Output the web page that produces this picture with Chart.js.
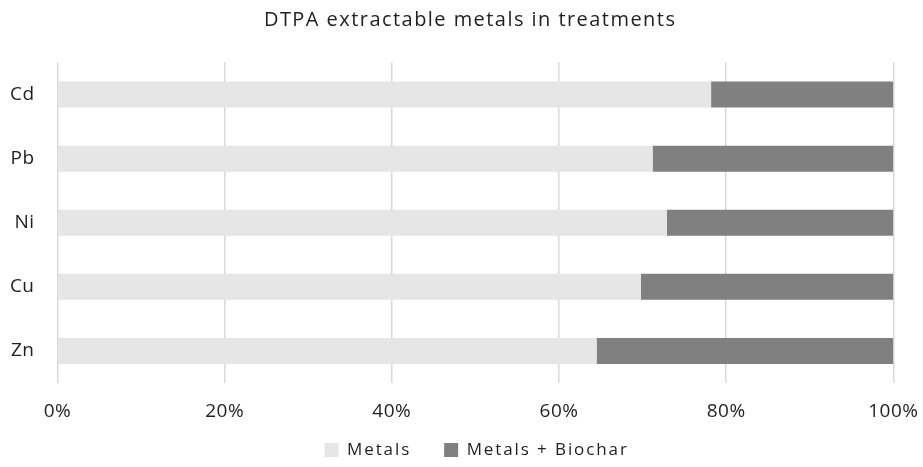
<!DOCTYPE html>
<html>
<head>
<meta charset="utf-8">
<script src="https://cdn.jsdelivr.net/npm/chart.js@4/dist/chart.umd.min.js"></script>
<style>
  html, body { margin: 0; padding: 0; background: #fff; }
  canvas { display: block; }
</style>
</head>
<body>
<canvas id="c" width="923" height="467"></canvas>
<script>
const categories = ['Cd', 'Pb', 'Ni', 'Cu', 'Zn'];
const metalsValues = [78.2, 71.2, 72.9, 69.8, 64.5];
const biocharValues = [21.8, 28.8, 27.1, 30.2, 35.5];
const seriesNames = ['Metals', 'Metals + Biochar'];
const titleText = 'DTPA extractable metals in treatments';

const fontFamily = '"Open Sans", "DejaVu Sans", sans-serif';
const textColor = '#1f1f1f';

function withSpacing(obj, name, sp, dx, dy) {
  const orig = obj[name];
  obj[name] = function (...args) {
    const ctx = this.ctx;
    const prev = ctx.letterSpacing;
    ctx.save();
    ctx.letterSpacing = sp;
    if (dx || dy) ctx.translate(dx || 0, dy || 0);
    const r = orig.apply(this, args);
    ctx.restore();
    ctx.letterSpacing = prev;
    return r;
  };
}

const spacingPlugin = {
  id: 'spacing',
  afterInit(chart) {
    if (chart.legend) {
      withSpacing(chart.legend, 'fit', '1.9px');
      withSpacing(chart.legend, 'draw', '1.9px', 30, -16.5);
    }
    if (chart.titleBlock) {
      withSpacing(chart.titleBlock, 'draw', '1.45px', 23.5, 0);
    }
  },
  beforeUpdate(chart) { chart.ctx.letterSpacing = '0.5px'; },
  beforeDraw(chart) { chart.ctx.letterSpacing = '0.5px'; }
};

new Chart(document.getElementById('c'), {
  type: 'bar',
  data: {
    labels: categories,
    datasets: [
      { label: seriesNames[0], data: metalsValues, backgroundColor: '#e6e6e6', borderWidth: 0 },
      { label: seriesNames[1], data: biocharValues, backgroundColor: '#808080', borderWidth: 0 }
    ]
  },
  plugins: [spacingPlugin],
  options: {
    indexAxis: 'y',
    responsive: false,
    animation: false,
    devicePixelRatio: 1,
    layout: { padding: { left: 0, right: 29.7, top: 0, bottom: -18 } },
    datasets: { bar: { barPercentage: 0.405, categoryPercentage: 1 } },
    scales: {
      x: {
        stacked: true,
        min: 0, max: 100,
        ticks: {
          stepSize: 20,
          callback: v => v + '%',
          color: textColor,
          font: { family: fontFamily, size: 19, lineHeight: 2.6 },
          padding: 4
        },
        grid: { color: '#d9d9d9', lineWidth: 1.5, drawTicks: false },
        border: { display: false },
        afterFit: s => { s.height = 42; }
      },
      y: {
        stacked: true,
        ticks: {
          color: textColor,
          font: { family: fontFamily, size: 19 },
          padding: 23
        },
        grid: { display: false, drawTicks: false },
        border: { display: false },
        afterFit: s => { s.width = 57.5; }
      }
    },
    plugins: {
      title: {
        display: true,
        text: titleText,
        color: textColor,
        font: { family: fontFamily, size: 20, weight: 'normal' },
        padding: { top: 8, bottom: 30.5 }
      },
      legend: {
        position: 'bottom',
        labels: {
          color: textColor,
          font: { family: fontFamily, size: 17 },
          boxWidth: 14,
          boxHeight: 14,
          padding: 33
        }
      },
      tooltip: { enabled: false }
    }
  }
});
</script>
</body>
</html>
